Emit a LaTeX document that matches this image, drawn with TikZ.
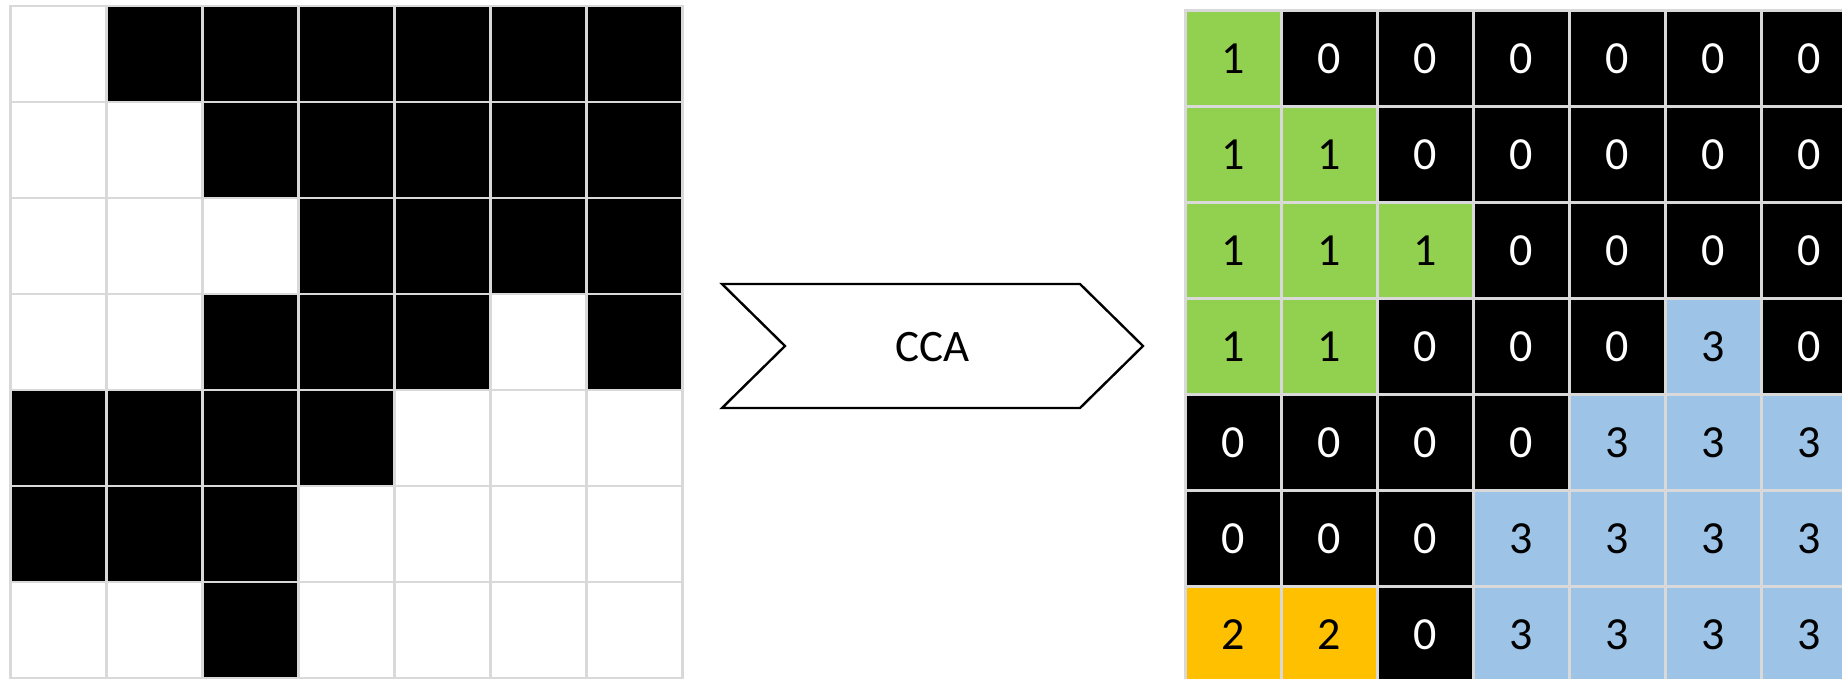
\documentclass[tikz,border=0pt]{standalone}
\usepackage{fontspec}
\setmainfont{Carlito}

% grid line and label colours
\definecolor{gridgrey}{HTML}{D9D9D9}
% binary image: 0 = background (white), 1 = foreground (black)
\colorlet{bin0}{white}
\colorlet{bin1}{black}
% component labels: 0 = black, 1 = green, 2 = orange, 3 = blue
\colorlet{lab0}{black}
\definecolor{lab1}{HTML}{92D050}
\definecolor{lab2}{HTML}{FFC000}
\definecolor{lab3}{HTML}{9DC3E6}
\colorlet{txt0}{white}
\colorlet{txt1}{black}
\colorlet{txt2}{black}
\colorlet{txt3}{black}

\begin{document}
\begin{tikzpicture}[x=1pt,y=-1pt,
  cell/.style={draw=gridgrey, line width=2.4pt, minimum size=96pt,
               inner sep=0pt, font=\fontsize{46}{55}\selectfont},
  chevron/.style={draw=black, line width=2.4pt, fill=white, line join=miter},
  chevlabel/.style={inner sep=0pt, font=\fontsize{45}{54}\selectfont}
]
\useasboundingbox (0,0) rectangle (1842,678);
\clip (0,0) rectangle (1842,678);

% input binary image (7 x 7)
\foreach \r/\row in {1/{0,1,1,1,1,1,1},
                     2/{0,0,1,1,1,1,1},
                     3/{0,0,0,1,1,1,1},
                     4/{0,0,1,1,1,0,1},
                     5/{1,1,1,1,0,0,0},
                     6/{1,1,1,0,0,0,0},
                     7/{0,0,1,0,0,0,0}}{
  \foreach \v [count=\c] in \row {
    \node[cell, fill=bin\v] (L-\r-\c) at ({10.5+96*(\c-0.5)},{6+96*(\r-0.5)}) {};
  }
}

% labelled output image (7 x 7)
\foreach \r/\row in {1/{1,0,0,0,0,0,0},
                     2/{1,1,0,0,0,0,0},
                     3/{1,1,1,0,0,0,0},
                     4/{1,1,0,0,0,3,0},
                     5/{0,0,0,0,3,3,3},
                     6/{0,0,0,3,3,3,3},
                     7/{2,2,0,3,3,3,3}}{
  \foreach \v [count=\c] in \row {
    \node[cell, fill=lab\v, text=txt\v] (R-\r-\c)
      at ({1185.5+96*(\c-0.5)},{10.5+96*(\r-0.5)}) {\v};
  }
}

% process chevron
\coordinate (ctl) at (722,284);
\coordinate (ctr) at (1080,284);
\coordinate (ctip) at (1143,346);
\coordinate (cbr) at (1080,408);
\coordinate (cbl) at (722,408);
\coordinate (cnotch) at (785,346);
\draw[chevron] (ctl) -- (ctr) -- (ctip) -- (cbr) -- (cbl) -- (cnotch) -- cycle;
\node[chevlabel] (cca) at (932.5,347) {CCA};
\end{tikzpicture}
\end{document}
